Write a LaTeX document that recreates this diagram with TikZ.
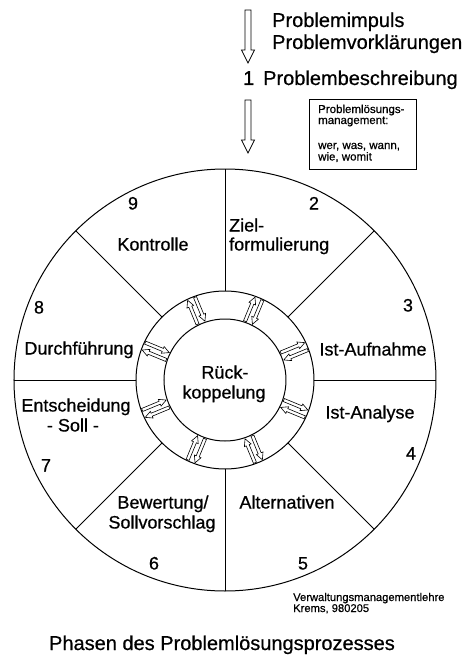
\documentclass[tikz,border=0pt]{standalone}
\usepackage{fontspec}
\setmainfont[FakeBold=0.6]{Liberation Sans}
\begin{document}
\begin{tikzpicture}[x=1pt,y=1pt,
  big/.style={font=\fontsize{20}{24}\selectfont, inner sep=0pt, anchor=base west},
  lab/.style={font=\fontsize{18}{21}\selectfont, inner sep=0pt, anchor=base},
  labw/.style={font=\fontsize{18}{21}\selectfont, inner sep=0pt, anchor=base west},
  small/.style={font=\fontsize{11.5}{13}\selectfont, inner sep=0pt, anchor=base west},
  tiny/.style={font=\fontsize{11.2}{13}\selectfont, inner sep=0pt, anchor=base west},
  ringline/.style={line width=1pt},
  spoke/.style={line width=0.9pt},
  hollow/.style={line width=0.6pt, fill=white},
  bigarrow/.style={line width=0.8pt, fill=white}]
\useasboundingbox (-225,-277) rectangle (249,380);

% top hollow arrows
\draw[bigarrow] (20,370) -- (26,370) -- (26,330) -- (29.5,330) -- (23,317) -- (16.5,330) -- (20,330) -- cycle;
\draw[bigarrow] (20,280) -- (26,280) -- (26,240) -- (29.5,240) -- (23,227) -- (16.5,240) -- (20,240) -- cycle;

\node[big] (imp) at (47,353) {Problemimpuls};
\node[big] (vor) at (47,331) {Problemvorklärungen};
\node[big] (one) at (18,295) {1};
\node[big] (besch) at (38,295) {Problembeschreibung};

% box
\draw[line width=0.9pt] (84,281) rectangle (191,211);
\node[small] (b1) at (93,267) {Problemlösungs-};
\node[small] (b2) at (93,256) {management:};
\node[small] (b3) at (93,231) {wer, was, wann,};
\node[small] (b4) at (93,219.5) {wie, womit};

% circles
\draw[ringline] (0,0) circle (211);
\draw[ringline] (0,0) circle (89);
\draw[ringline] (0,0) circle (61);
\foreach \a in {0,45,...,315} {
  \draw[spoke] (\a:89) -- (\a:211);
}

% ring double arrows
\foreach \a in {22.5,67.5,...,337.5} {
  \begin{scope}[rotate=\a]
    \draw[hollow] (62,5.6) -- (81,5.6) -- (81,7.6) -- (88,4) -- (81,0.4) -- (81,2.4) -- (62,2.4) -- cycle;
    \draw[hollow] (88,-2.4) -- (69,-2.4) -- (69,-0.4) -- (62,-4) -- (69,-7.6) -- (69,-5.6) -- (88,-5.6) -- cycle;
  \end{scope}
}

% sector labels
\node[lab] (n9) at (-92,170.5) {9};
\node[lab] (kon) at (-72,129.5) {Kontrolle};
\node[lab] (n2) at (89,170.5) {2};
\node[labw] (ziel) at (4,148.5) {Ziel-};
\node[labw] (form) at (4,129.5) {formulierung};
\node[lab] (n3) at (183,68.5) {3};
\node[lab] (ista) at (148,24.5) {Ist-Aufnahme};
\node[lab] (istan) at (145,-38.5) {Ist-Analyse};
\node[lab] (n4) at (186,-79.5) {4};
\node[lab] (alt) at (62,-128.5) {Alternativen};
\node[lab] (n5) at (78,-189.5) {5};
\node[lab] (bew) at (-62,-128.5) {Bewertung/};
\node[lab] (soll) at (-63,-148.5) {Sollvorschlag};
\node[lab] (n6) at (-71,-189.5) {6};
\node[lab] (n7) at (-179,-91.5) {7};
\node[lab] (ent) at (-149,-31.5) {Entscheidung};
\node[lab] (sl) at (-152,-51.5) {- Soll -};
\node[lab] (n8) at (-186,66.5) {8};
\node[lab] (dur) at (-146,25.5) {Durchführung};
\node[lab] (rk1) at (0,1.5) {Rück-};
\node[lab] (rk2) at (-1,-18.5) {koppelung};

% bottom
\node[tiny] (vw) at (68,-221) {Verwaltungsmanagementlehre};
\node[tiny] (kr) at (68,-232) {Krems, 980205};
\node[font=\fontsize{20}{24}\selectfont, inner sep=0pt, anchor=base] (title) at (-3,-270) {Phasen des Problemlösungsprozesses};
\end{tikzpicture}
\end{document}
